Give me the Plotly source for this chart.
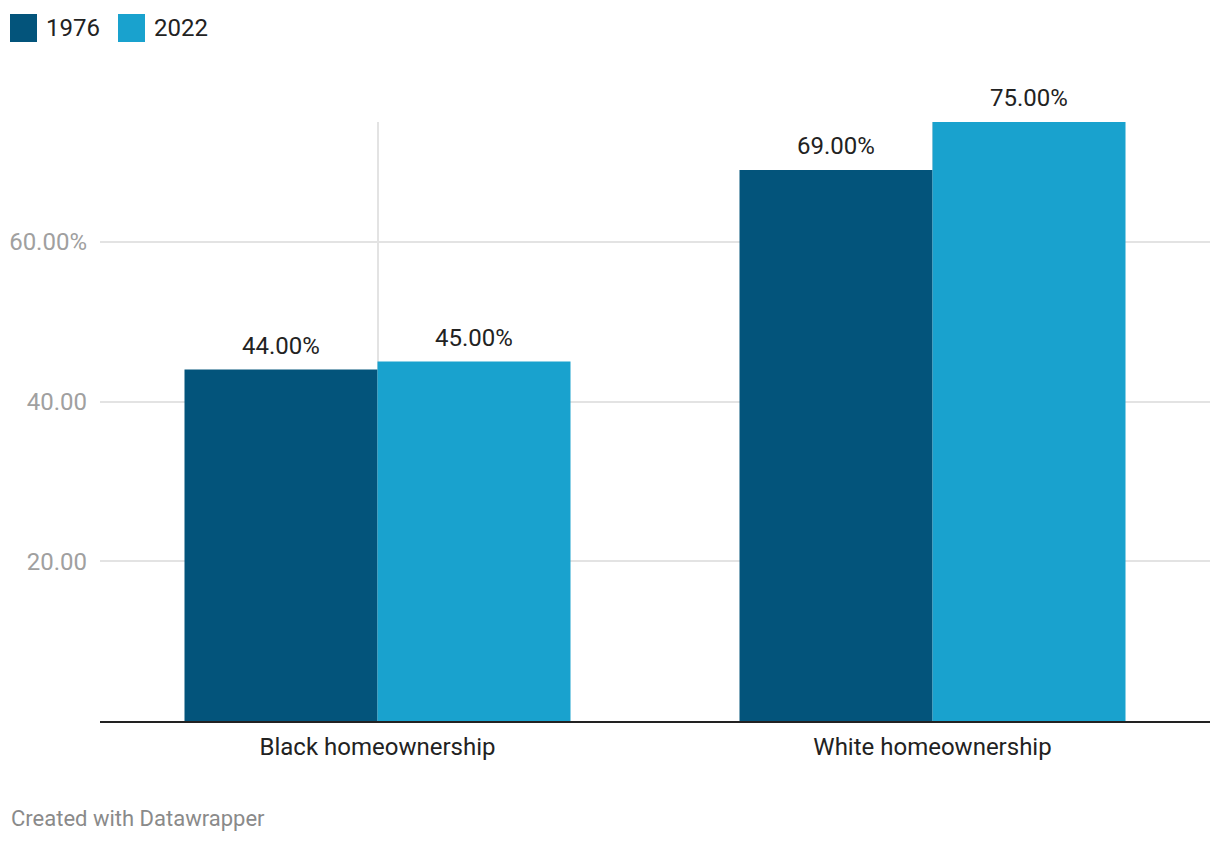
import plotly.graph_objects as go

categories = ["Black homeownership", "White homeownership"]
series_names = ["1976", "2022"]
values_1976 = [44, 69]
values_2022 = [45, 75]
colors = ["#03547b", "#19a2ce"]
y_tickvals = [20, 40, 60]
y_ticktext = ["20.00", "40.00", "60.00%"]

series_values = [values_1976, values_2022]

# figure geometry (page body adds an 8px offset)
W, H = 1212, 836
ML, MR, MT, MB = 92, 10, 114, 123
PW, PH = W - ML - MR, H - MT - MB
BARGAP = 0.3045


def px(x):
    return (x - ML) / PW


def py(y):
    return (H - MB - y) / PH


fig = go.Figure()
for name, vals, col in zip(series_names, series_values, colors):
    fig.add_trace(go.Bar(
        x=categories, y=vals, name=name,
        marker=dict(color=col, line=dict(width=0)),
        showlegend=False,
    ))

# value labels above bars
bar_px = PW / len(categories) * (1 - BARGAP) / len(series_names)
for si, (vals, name) in enumerate(zip(series_values, series_names)):
    shift = (si - (len(series_names) - 1) / 2) * bar_px
    for cat, v in zip(categories, vals):
        fig.add_annotation(x=cat, y=v, xref="x", yref="y",
                           text=f"{v:.2f}%", showarrow=False,
                           xanchor="center", yanchor="bottom",
                           xshift=shift, yshift=8,
                           font=dict(family="Roboto", size=24, color="#222222"))

# custom legend (large swatches like the original)
for i, (name, col) in enumerate(zip(series_names, colors)):
    xs = 2 + i * 108
    fig.add_shape(type="rect", xref="paper", yref="paper",
                  x0=px(xs), x1=px(xs + 27), y0=py(34), y1=py(6),
                  fillcolor=col, line=dict(width=0), layer="above")
    fig.add_annotation(xref="paper", yref="paper",
                       x=px(xs + 34), y=py(20),
                       text=name, showarrow=False, xanchor="left", yanchor="middle",
                       font=dict(family="Roboto", size=24, color="#222222"))

fig.add_annotation(xref="paper", yref="paper",
                   x=px(1), y=py(810),
                   text="Created with Datawrapper", showarrow=False,
                   xanchor="left", yanchor="middle",
                   font=dict(family="Roboto", size=22, color="#8a8a8a"))

fig.update_layout(
    width=W, height=H,
    margin=dict(l=ML, r=MR, t=MT, b=MB, autoexpand=False),
    paper_bgcolor="white", plot_bgcolor="white",
    barmode="group", bargap=BARGAP, bargroupgap=0,
    font=dict(family="Roboto"),
    xaxis=dict(
        automargin=False,
        showgrid=True, gridcolor="#e3e3e3", gridwidth=2,
        showline=True, linecolor="#222222", linewidth=2,
        ticks="", tickfont=dict(family="Roboto", size=24, color="#222222"),
        ticklabelstandoff=3,
    ),
    yaxis=dict(
        automargin=False,
        range=[0, 75], tickvals=y_tickvals, ticktext=y_ticktext,
        showgrid=True, gridcolor="#e3e3e3", gridwidth=2,
        zeroline=False, showline=False, ticks="",
        tickfont=dict(family="Roboto", size=24, color="#a0a0a0"),
        ticklabelstandoff=12,
    ),
)

fig.write_html("out.html")
